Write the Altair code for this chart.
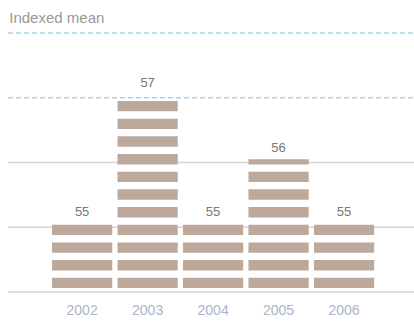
import altair as alt
import pandas as pd

years = ["2002", "2003", "2004", "2005", "2006"]
values = [55, 57, 55, 56, 55]
grid_solid = [54, 55, 56]
grid_dashed = [57, 58]
base = 54
stripe_period = 0.273
stripe_offset = 0.06
stripe_height = 0.16

# build stripe segments from the values
rows = []
for yr, v in zip(years, values):
    b = base + stripe_offset
    while b < v:
        t = min(b + stripe_height, v + 0.05)
        rows.append({"year": yr, "y0": b, "y1": t})
        b += stripe_period
stripes = pd.DataFrame(rows)
bars = pd.DataFrame({"year": years, "value": values})

W, H = 406, 259
yscale = alt.Scale(domain=[54, 58], zero=False, nice=False)
xscale = alt.Scale(domain=years, paddingInner=0.08, paddingOuter=0.64, align=0.525)

solid = alt.Chart(pd.DataFrame({"g": grid_solid})).mark_rule(
    color="#d9d3cf", strokeWidth=1.5
).encode(y=alt.Y("g:Q", scale=yscale, axis=None), x=alt.value(0), x2=alt.value(W))

dashed = alt.Chart(pd.DataFrame({"g": grid_dashed})).mark_rule(
    color="#a9d3e3", strokeWidth=1.5, strokeDash=[5, 3]
).encode(y=alt.Y("g:Q", scale=yscale, axis=None), x=alt.value(0), x2=alt.value(W))

stripe_layer = alt.Chart(stripes).mark_bar(color="#bca99c").encode(
    x=alt.X("year:N", scale=xscale, sort=years,
            axis=alt.Axis(title=None, domain=False, ticks=False, labelAngle=0,
                          labelColor="#aab4cb", labelFontSize=14, labelPadding=11,
                          labelFont="Liberation Sans")),
    y=alt.Y("y0:Q", scale=yscale, axis=None),
    y2="y1:Q",
)

labels = alt.Chart(bars).mark_text(
    baseline="alphabetic", dy=-11, fontSize=13, color="#777777", font="Liberation Sans"
).encode(
    x=alt.X("year:N", scale=xscale, sort=years),
    y=alt.Y("value:Q", scale=yscale, axis=None),
    text="value:Q",
)

chart = alt.layer(solid, dashed, stripe_layer, labels).properties(
    width=W, height=H,
    title=alt.TitleParams("Indexed mean", anchor="start", fontSize=15, fontWeight="normal",
                          color="#999999", font="Liberation Sans", offset=6, dx=2),
    autosize=alt.AutoSizeParams(type="none"),
    padding={"left": 8, "top": 33, "right": 0, "bottom": 30},
).configure_view(stroke=None)

chart.save("out.html", embed_options={"renderer": "svg", "actions": False})
